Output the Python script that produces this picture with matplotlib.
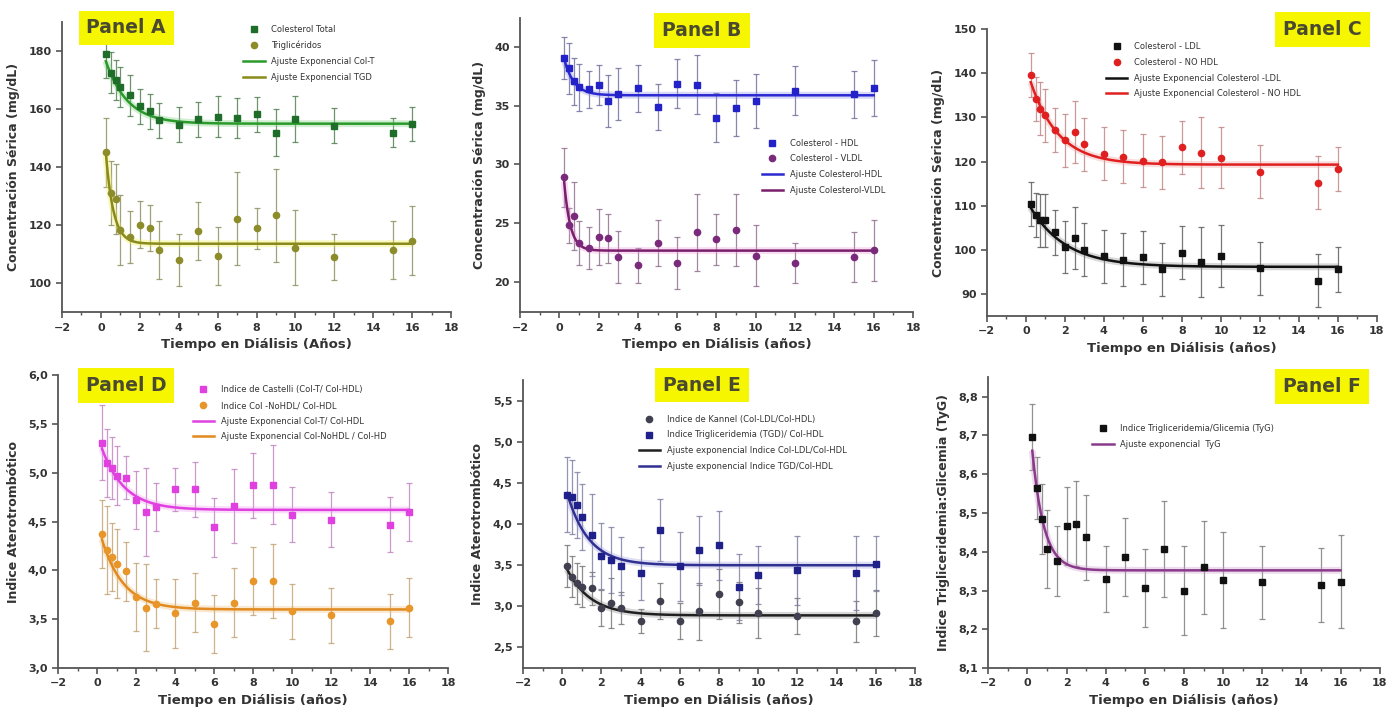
import numpy as np
import matplotlib
matplotlib.use("Agg")
import matplotlib.pyplot as plt
from matplotlib.ticker import MultipleLocator, FuncFormatter

plt.rcParams['font.family'] = ['DejaVu Sans']

# ---------------- data ----------------
years = [0.25, 0.5, 0.75, 1, 1.5, 2, 2.5, 3, 4, 5, 6, 7, 8, 9, 10, 12, 15, 16]

# Panel A
colT = [178.9, 172.6, 170.0, 167.7, 164.8, 161.0, 159.3, 156.2, 154.7, 156.5, 157.4, 157.0, 158.3, 151.9, 156.6, 154.3, 151.9, 154.9]
colT_err = [8, 7, 7, 7, 7, 6, 6, 6, 6, 6, 7, 7, 6, 8, 8, 6, 5, 6]
tgd = [145.1, 131.1, 129.0, 118.3, 116.0, 120.2, 119.1, 111.4, 108.0, 117.9, 109.4, 122.3, 118.9, 123.4, 112.2, 109.0, 111.4, 114.7]
tgd_err = [12, 11, 12, 12, 9, 8, 8, 10, 9, 10, 10, 16, 7, 16, 13, 8, 10, 12]
fit_colT = [182.0, 155.0, 0.9]      # y0, plateau, k
fit_tgd = [174.0, 113.6, 2.6]

# Panel B
hdl = [39.1, 38.2, 37.1, 36.6, 36.4, 36.8, 35.4, 36.0, 36.5, 34.9, 36.9, 36.8, 34.0, 34.8, 35.4, 36.3, 36.0, 36.5]
hdl_err = [1.8, 2.2, 2.0, 2.0, 1.6, 1.7, 2.2, 2.2, 2.0, 2.0, 2.1, 2.5, 2.1, 2.4, 2.3, 2.1, 2.0, 2.4]
vldl = [28.9, 24.8, 25.6, 23.3, 22.9, 23.8, 23.7, 22.1, 21.4, 23.3, 21.6, 24.2, 23.6, 24.4, 22.2, 21.6, 22.1, 22.7]
vldl_err = [2.5, 1.5, 2.9, 1.9, 1.8, 2.4, 2.1, 2.2, 1.5, 2.0, 2.2, 3.3, 2.2, 3.1, 2.6, 1.7, 2.1, 2.6]
fit_hdl = [41.0, 35.9, 2.0]
fit_vldl = [35.5, 22.65, 3.15]

# Panel C
ldl = [110.3, 107.8, 106.7, 106.7, 103.9, 100.6, 102.7, 100.0, 98.5, 97.7, 98.3, 95.5, 99.3, 97.2, 98.5, 95.8, 93.0, 95.5]
ldl_err = [5, 5, 6, 6, 5, 6, 7, 6, 6, 6, 6, 6, 6, 8, 7, 6, 6, 5]
nohdl = [139.6, 134.1, 132.0, 130.5, 127.1, 124.8, 126.7, 123.9, 121.8, 121.1, 120.2, 119.8, 123.2, 122.0, 120.9, 117.7, 115.2, 118.3]
nohdl_err = [5, 5, 6, 6, 5, 6, 7, 6, 6, 6, 6, 6, 6, 8, 7, 6, 6, 5]
fit_ldl = [111.5, 96.1, 0.55]
fit_nohdl = [141.6, 119.3, 0.7]

# Panel D
castelli = [5.31, 5.10, 5.05, 4.97, 4.95, 4.72, 4.60, 4.65, 4.83, 4.83, 4.44, 4.66, 4.87, 4.88, 4.57, 4.52, 4.47, 4.60]
castelli_err = [0.38, 0.35, 0.32, 0.30, 0.22, 0.30, 0.45, 0.25, 0.22, 0.28, 0.30, 0.38, 0.33, 0.40, 0.28, 0.28, 0.28, 0.30]
nohdl_hdl = [4.37, 4.21, 4.14, 4.07, 3.99, 3.73, 3.62, 3.66, 3.56, 3.67, 3.45, 3.67, 3.89, 3.89, 3.58, 3.54, 3.48, 3.62]
nohdl_hdl_err = [0.35, 0.45, 0.35, 0.35, 0.30, 0.35, 0.45, 0.25, 0.35, 0.30, 0.30, 0.35, 0.35, 0.38, 0.28, 0.28, 0.28, 0.30]
fit_castelli = [5.40, 4.62, 0.86]
fit_nohdl_hdl = [4.50, 3.60, 0.90]

# Panel E
kannel = [3.49, 3.36, 3.28, 3.24, 3.22, 2.98, 3.04, 2.98, 2.82, 3.07, 2.82, 2.94, 3.15, 3.05, 2.92, 2.88, 2.82, 2.92]
kannel_err = [0.25, 0.25, 0.25, 0.25, 0.20, 0.22, 0.30, 0.20, 0.15, 0.22, 0.22, 0.35, 0.30, 0.25, 0.30, 0.22, 0.25, 0.28]
tgd_hdl = [4.36, 4.33, 4.23, 4.09, 3.87, 3.61, 3.56, 3.49, 3.40, 3.93, 3.49, 3.68, 3.74, 3.24, 3.38, 3.44, 3.40, 3.52]
tgd_hdl_err = [0.45, 0.45, 0.40, 0.40, 0.50, 0.40, 0.40, 0.35, 0.32, 0.38, 0.42, 0.42, 0.42, 0.40, 0.35, 0.42, 0.45, 0.33]
fit_kannel = [3.58, 2.89, 0.83]
fit_tgd_hdl = [4.60, 3.50, 0.91]

# Panel F
tyg = [8.695, 8.564, 8.485, 8.407, 8.376, 8.467, 8.472, 8.437, 8.329, 8.386, 8.306, 8.407, 8.300, 8.360, 8.327, 8.321, 8.314, 8.323]
tyg_err = [0.085, 0.08, 0.09, 0.10, 0.09, 0.10, 0.11, 0.11, 0.085, 0.10, 0.10, 0.125, 0.115, 0.12, 0.125, 0.095, 0.095, 0.12]
fit_tyg = [8.822, 8.352, 1.68]

x_ticks = [-2, 0, 2, 4, 6, 8, 10, 12, 14, 16, 18]

# ---------------- drawing ----------------
fig = plt.figure(figsize=(13.88, 7.16), dpi=100)

def comma(v, pos):
    return ("%.1f" % v).replace(".", ",")

def setup(ax, ylim, yticks, ylabel, xlabel, decimal=False):
    ax.set_xlim(-2, 18)
    ax.set_ylim(*ylim)
    ax.set_xticks(x_ticks)
    ax.set_yticks(yticks)
    ax.xaxis.set_minor_locator(MultipleLocator(1))
    for s in ['top', 'right']:
        ax.spines[s].set_visible(False)
    for s in ['left', 'bottom']:
        ax.spines[s].set_color('#555555')
        ax.spines[s].set_linewidth(1.3)
    ax.tick_params(axis='both', which='major', direction='out', length=4, width=1.2,
                   colors='#555555', labelcolor='#333333', labelsize=8)
    ax.tick_params(axis='x', which='minor', direction='out', length=2.5, width=1, colors='#555555')
    for lab in ax.get_xticklabels() + ax.get_yticklabels():
        lab.set_fontweight('bold')
    if decimal:
        ax.yaxis.set_major_formatter(FuncFormatter(comma))
    ax.set_ylabel(ylabel, fontsize=9, fontweight='bold', color='#333333', labelpad=6)
    ax.set_xlabel(xlabel, fontsize=9.5, fontweight='bold', color='#333333', labelpad=4)

def series(ax, y, err, mcolor, ecolor, marker, label, ms=4.5):
    ax.errorbar(years, y, yerr=err, fmt='none', ecolor=ecolor, elinewidth=0.9,
                capsize=2.5, capthick=0.9, alpha=0.8, zorder=2)
    ax.plot(years, y, linestyle='none', marker=marker, color=mcolor, ms=ms,
            label=label, zorder=4)

def fit(ax, p, color, glow, label):
    xf = np.linspace(0.25, 16, 300)
    yf = p[1] + (p[0] - p[1]) * np.exp(-p[2] * xf)
    ax.plot(xf, yf, color=glow, lw=5, alpha=0.35, zorder=3, solid_capstyle='butt')
    ax.plot(xf, yf, color=color, lw=1.8, zorder=3, label=label)

def panel_label(ax, text, x, y):
    ax.text(x, y, text, transform=ax.transAxes, fontsize=13.5, fontweight='bold',
            color='#4a4a30', ha='center', va='center', clip_on=False,
            bbox=dict(boxstyle='square,pad=0.42', fc='#f6f600', ec='none'), zorder=6)

def legend(ax, loc, anchor):
    leg = ax.legend(loc=loc, bbox_to_anchor=anchor, frameon=False, fontsize=6,
                    handlelength=2.6, handletextpad=0.8, labelspacing=0.8,
                    borderpad=0.2)
    for t in leg.get_texts():
        t.set_color('#333333')
    return leg

xl_A = 'Tiempo en Diálisis (Años)'
xl = 'Tiempo en Diálisis (años)'
yl_conc = 'Concentración Sérica (mg/dL)'
yl_atero = 'Indice Aterotrombótico'

# Panel A
axA = fig.add_axes([0.0447, 0.564, 0.2803, 0.405])
series(axA, colT, colT_err, '#1e6e2a', '#4a7a4a', 's', 'Colesterol Total')
series(axA, tgd, tgd_err, '#8c8c2a', '#8a8a5a', 'o', 'Triglicéridos')
fit(axA, fit_colT, '#2a9a2a', '#80d080', 'Ajuste Exponencial Col-T')
fit(axA, fit_tgd, '#8a8a1a', '#f0f050', 'Ajuste Exponencial TGD')
setup(axA, (90, 190), [100, 120, 140, 160, 180], yl_conc, xl_A)
legend(axA, 'upper left', (0.45, 1.01))
panel_label(axA, 'Panel A', 0.165, 0.98)

# Panel B
axB = fig.add_axes([0.3746, 0.564, 0.2832, 0.411])
series(axB, hdl, hdl_err, '#2222c8', '#6a6a9a', 's', 'Colesterol - HDL')
series(axB, vldl, vldl_err, '#7a2a7a', '#8a6a8a', 'o', 'Colesterol - VLDL')
fit(axB, fit_hdl, '#2a2ad0', '#9090f0', 'Ajuste Colesterol-HDL')
fit(axB, fit_vldl, '#7a1f6a', '#f0a0e0', 'Ajuste Colesterol-VLDL')
setup(axB, (17.4, 42.5), [20, 25, 30, 35, 40], yl_conc, xl)
legend(axB, 'upper left', (0.6, 0.61))
panel_label(axB, 'Panel B', 0.463, 0.956)

# Panel C
axC = fig.add_axes([0.711, 0.559, 0.281, 0.400])
series(axC, ldl, ldl_err, '#111111', '#555555', 's', 'Colesterol - LDL')
series(axC, nohdl, nohdl_err, '#e02020', '#c08080', 'o', 'Colesterol - NO HDL')
fit(axC, fit_ldl, '#111111', '#909090', 'Ajuste Exponencial Colesterol -LDL')
fit(axC, fit_nohdl, '#e02020', '#f0a0a0', 'Ajuste Exponencial Colesterol - NO HDL')
setup(axC, (85, 150), [90, 100, 110, 120, 130, 140, 150], yl_conc, xl)
legend(axC, 'upper left', (0.29, 0.975))
panel_label(axC, 'Panel C', 0.86, 1.0)

# Panel D
axD = fig.add_axes([0.0418, 0.067, 0.281, 0.409])
series(axD, castelli, castelli_err, '#e040e0', '#c080c0', 's', 'Indice de Castelli (Col-T/ Col-HDL)')
series(axD, nohdl_hdl, nohdl_hdl_err, '#e8952a', '#c0a070', 'o', 'Indice Col -NoHDL/ Col-HDL')
fit(axD, fit_castelli, '#e040e0', '#f0a0f0', 'Ajuste Exponencial Col-T/ Col-HDL')
fit(axD, fit_nohdl_hdl, '#e08a20', '#f0c080', 'Ajuste Exponencial Col-NoHDL / Col-HD')
setup(axD, (3.0, 6.0), [3.0, 3.5, 4.0, 4.5, 5.0, 5.5, 6.0], yl_atero, xl, decimal=True)
legend(axD, 'upper left', (0.33, 0.985))
panel_label(axD, 'Panel D', 0.174, 0.966)

# Panel E
axE = fig.add_axes([0.3768, 0.067, 0.2824, 0.402])
series(axE, kannel, kannel_err, '#404050', '#707070', 'o', 'Indice de Kannel (Col-LDL/Col-HDL)')
series(axE, tgd_hdl, tgd_hdl_err, '#20208a', '#7a7aa0', 's', 'Indice Trigliceridemia (TGD)/ Col-HDL')
fit(axE, fit_kannel, '#202020', '#909090', 'Ajuste exponencial Indice Col-LDL/Col-HDL')
fit(axE, fit_tgd_hdl, '#303090', '#a0a0e0', 'Ajuste exponencial Indice TGD/Col-HDL')
setup(axE, (2.25, 5.75), [2.5, 3.0, 3.5, 4.0, 4.5, 5.0, 5.5], yl_atero, xl, decimal=True)
legend(axE, 'upper left', (0.28, 0.9))
panel_label(axE, 'Panel E', 0.457, 0.983)

# Panel F
axF = fig.add_axes([0.712, 0.067, 0.282, 0.406])
series(axF, tyg, tyg_err, '#111111', '#777777', 's', 'Indice Trigliceridemia/Glicemia (TyG)')
fit(axF, fit_tyg, '#8a3a8a', '#d0a0d0', 'Ajuste exponencial  TyG')
setup(axF, (8.1, 8.85), [8.1, 8.2, 8.3, 8.4, 8.5, 8.6, 8.7, 8.8], 'Indice Trigliceridemia:Glicemia (TyG)', xl, decimal=True)
legend(axF, 'upper left', (0.25, 0.86))
panel_label(axF, 'Panel F', 0.852, 0.969)

fig.savefig('out.png', dpi=100, facecolor='white')
